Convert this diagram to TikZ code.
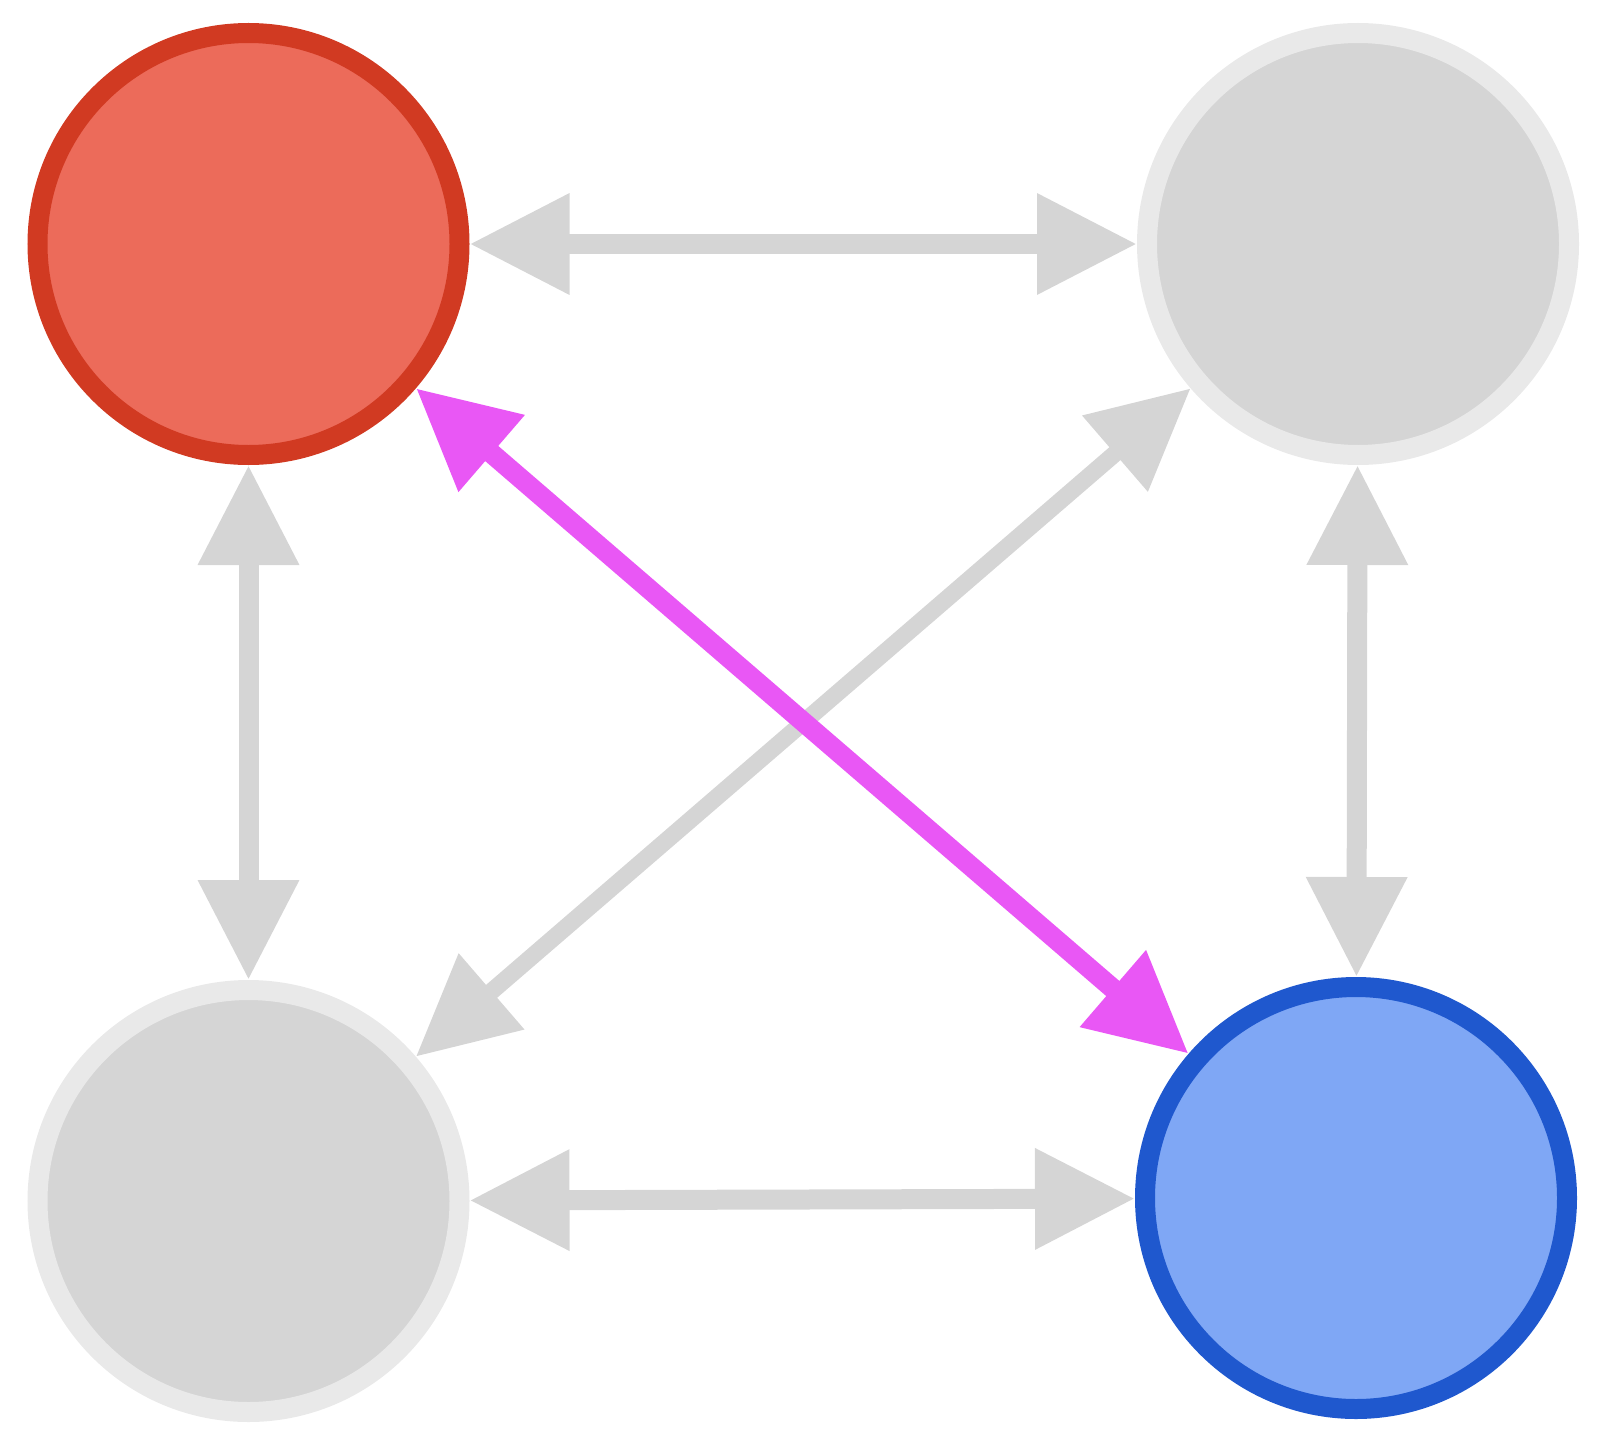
\documentclass[tikz,border=0pt]{standalone}
\usetikzlibrary{arrows.meta}

\definecolor{redfill}{HTML}{EC6B5A}
\definecolor{redline}{HTML}{D13A22}
\definecolor{bluefill}{HTML}{7FA7F5}
\definecolor{blueline}{HTML}{1F58CE}
\definecolor{grayfill}{HTML}{D5D5D5}
\definecolor{grayline}{HTML}{E9E9E9}
\definecolor{edgegray}{HTML}{D5D5D5}
\definecolor{pathpink}{HTML}{E957F5}

\begin{document}
\begin{tikzpicture}[x=1pt, y=-1pt,
  vertex/.style={circle, inner sep=0pt, minimum size=422pt, line width=20pt},
  link/.style={draw=edgegray, line width=20pt,
    {Triangle[length=100pt, width=96pt]}-{Triangle[length=100pt, width=96pt]}},
  crosslink/.style={link, line width=17pt},
  hotlink/.style={link, draw=pathpink, line width=20pt},
]
\useasboundingbox (0,0) rectangle (1602,1442);

% vertices
\node[vertex, fill=redfill,  draw=redline]  (tl) at (248.5, 244)  {};
\node[vertex, fill=grayfill, draw=grayline] (tr) at (1358, 244)   {};
\node[vertex, fill=grayfill, draw=grayline] (bl) at (248.5, 1201) {};
\node[vertex, fill=bluefill, draw=blueline] (br) at (1356, 1198)  {};

% outer edges
\draw[link] (tl) -- (tr);
\draw[link] (tl) -- (bl);
\draw[link] (tr) -- (br);
\draw[link] (bl) -- (br);

% diagonals, highlighted one on top
\draw[crosslink] (tr) -- (bl);
\draw[hotlink] (tl) -- (br);
\end{tikzpicture}
\end{document}
